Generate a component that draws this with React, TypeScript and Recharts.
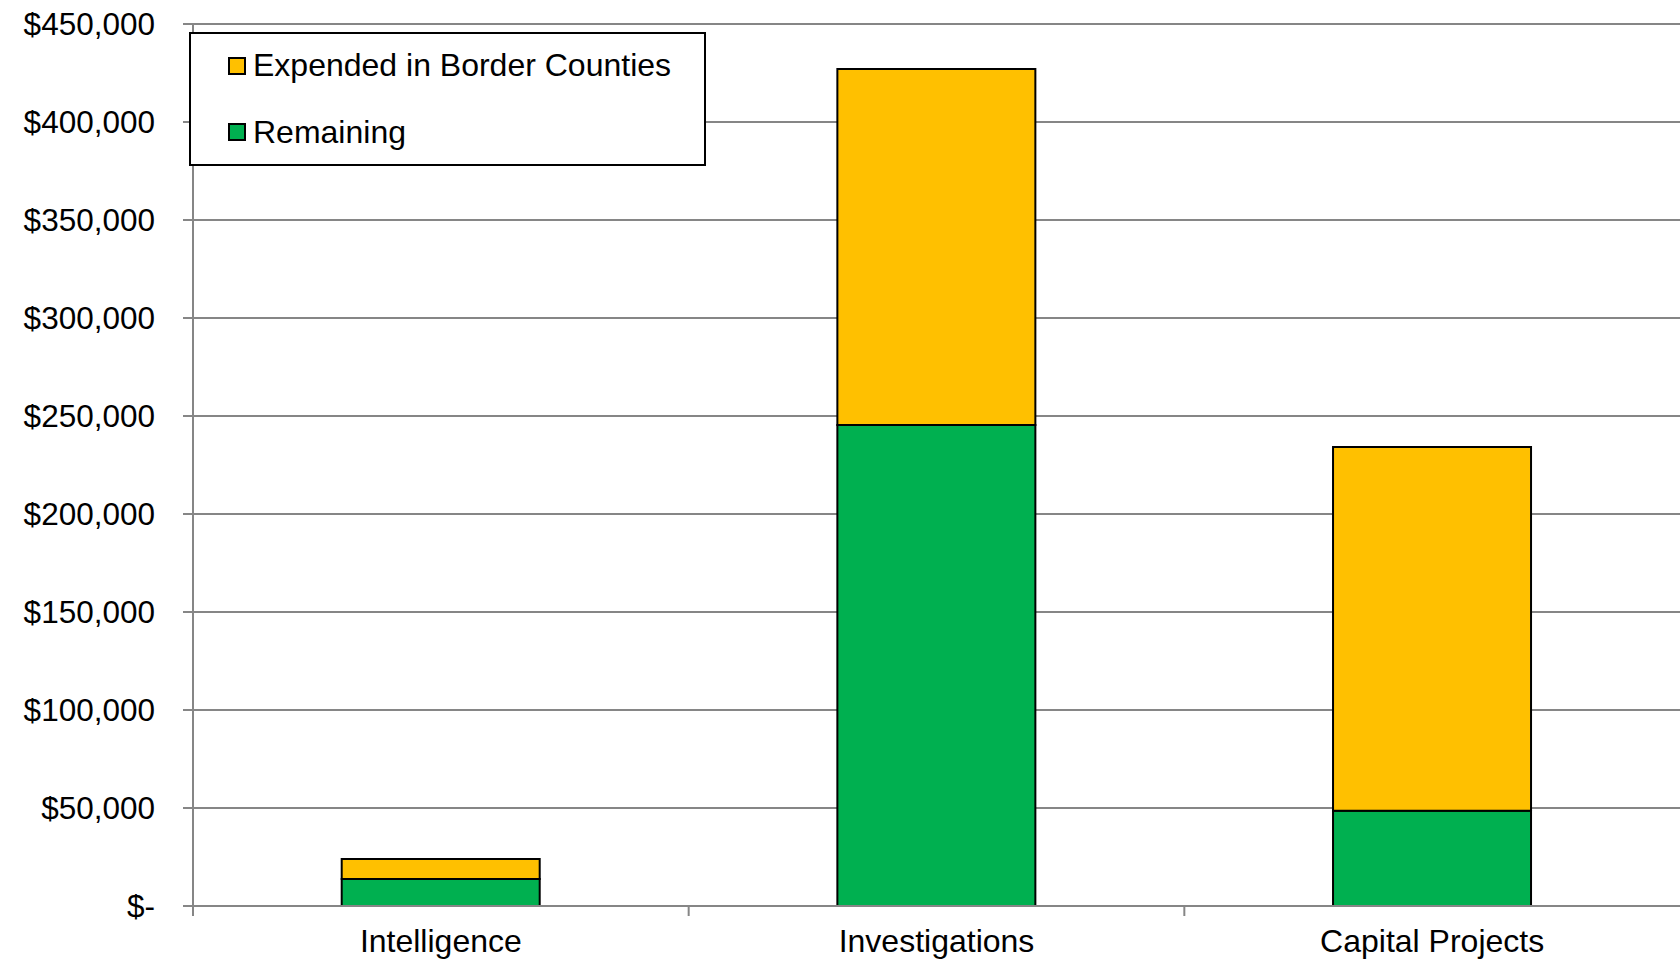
import React from "react";
import { BarChart, Bar, XAxis, YAxis, CartesianGrid, Legend } from "recharts";

const categories = ["Intelligence", "Investigations", "Capital Projects"];
const remaining = [13800, 245400, 48600];
const expended = [10200, 181600, 185600];
const yTicks = [0, 50000, 100000, 150000, 200000, 250000, 300000, 350000, 400000, 450000];
const legendOrder = ["Expended in Border Counties", "Remaining"];

const data = categories.map((c, i) => ({
  name: c,
  remaining: remaining[i],
  expended: expended[i],
}));

const FONT = '"Liberation Sans", Arial, sans-serif';
const GRID = "#868686";
const X_TICK_SIZE = 10;
const X_TICK_MARGIN = 13;

const fmt = (v: number) => (v === 0 ? "$-" : "$" + v.toLocaleString("en-US"));

const CategoryTick = (props: any) => {
  const { x, y, payload } = props;
  const half = payload && typeof payload.offset === "number" ? payload.offset : 0;
  const axisY = y - X_TICK_SIZE - X_TICK_MARGIN;
  return (
    <g>
      <line
        x1={x - half}
        x2={x - half}
        y1={axisY}
        y2={axisY + X_TICK_SIZE}
        stroke={GRID}
        strokeWidth={2}
      />
      <text
        x={x}
        y={y}
        dy="0.71em"
        textAnchor="middle"
        fill="#000"
        fontSize={32}
        fontFamily={FONT}
      >
        {payload.value}
      </text>
    </g>
  );
};

const LegendBox = (props: any) => {
  const payload = [...(props.payload || [])].sort(
    (a: any, b: any) => legendOrder.indexOf(a.value) - legendOrder.indexOf(b.value)
  );
  return (
    <div
      style={{
        boxSizing: "border-box",
        width: 517,
        height: 134,
        border: "2px solid #000",
        background: "#fff",
        display: "flex",
        flexDirection: "column",
        paddingLeft: 37,
        fontFamily: FONT,
        fontSize: 32,
        color: "#000",
      }}
    >
      {payload.map((p: any, i: number) => (
        <div
          key={p.value}
          style={{ height: 64, marginTop: i === 0 ? 0 : 3, display: "flex", alignItems: "center" }}
        >
          <span
            style={{
              boxSizing: "border-box",
              width: 18,
              height: 18,
              border: "2px solid #000",
              background: p.color,
              marginRight: 7,
              display: "inline-block",
              flex: "none",
            }}
          />
          <span style={{ whiteSpace: "nowrap" }}>{p.value}</span>
        </div>
      ))}
    </div>
  );
};

export default function App() {
  return (
    <div style={{ position: "absolute", left: 0, top: 0, width: 1680, height: 961, background: "#fff" }}>
      <BarChart
        width={1680}
        height={961}
        data={data}
        margin={{ top: 24, right: 0, left: 0, bottom: 0 }}
        barCategoryGap="30%"
      >
        <CartesianGrid vertical={false} stroke={GRID} strokeWidth={2} />
        <XAxis
          dataKey="name"
          height={55}
          axisLine={{ stroke: GRID, strokeWidth: 2 }}
          tickLine={false}
          tickSize={X_TICK_SIZE}
          tickMargin={X_TICK_MARGIN}
          tick={<CategoryTick />}
          interval={0}
        />
        <YAxis
          width={193}
          domain={[0, 450000]}
          ticks={yTicks}
          tickFormatter={fmt}
          axisLine={{ stroke: GRID, strokeWidth: 2 }}
          tickLine={{ stroke: GRID, strokeWidth: 2 }}
          tickSize={10}
          tickMargin={28}
          tick={{ fill: "#000", fontSize: 31.5, fontFamily: FONT }}
          interval={0}
        />
        <Legend
          layout="vertical"
          align="center"
          verticalAlign="middle"
          content={<LegendBox />}
          wrapperStyle={{ left: 189, top: 32, width: 517, height: 134 }}
        />
        <Bar
          dataKey="remaining"
          name="Remaining"
          stackId="a"
          fill="#00B050"
          stroke="#000"
          strokeWidth={2}
          isAnimationActive={false}
        />
        <Bar
          dataKey="expended"
          name="Expended in Border Counties"
          stackId="a"
          fill="#FFC000"
          stroke="#000"
          strokeWidth={2}
          isAnimationActive={false}
        />
      </BarChart>
    </div>
  );
}
